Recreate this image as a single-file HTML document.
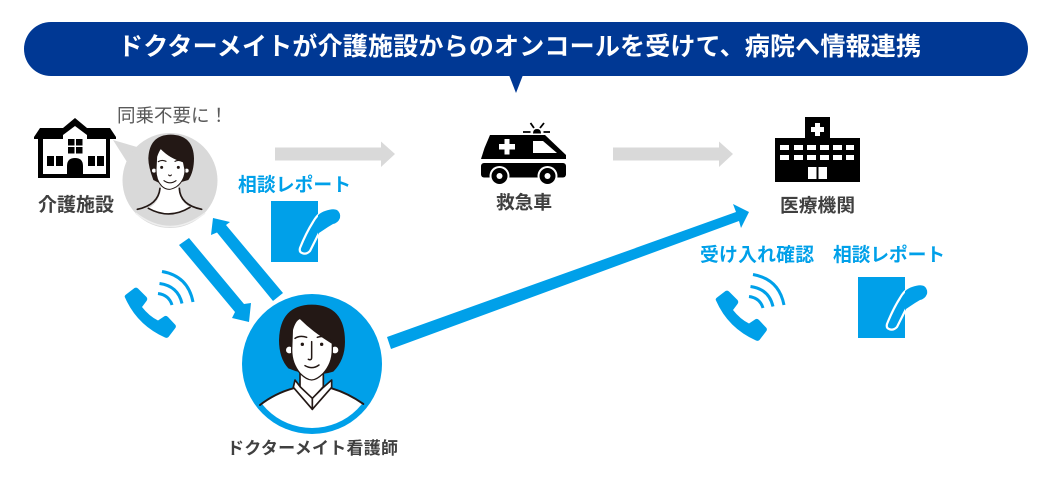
<!DOCTYPE html>
<html lang="ja"><head><meta charset="utf-8"><title>ドクターメイト</title>
<style>
html,body{margin:0;padding:0;background:#fff}
svg{display:block}
text{font-family:"Liberation Sans","Noto Sans CJK JP",sans-serif}
.b{font-weight:700;fill:#404040}
.c{font-weight:700;fill:#00a0e9}
</style></head><body>
<svg width="1045" height="483" viewBox="0 0 1045 483" xmlns="http://www.w3.org/2000/svg">
<defs>
<clipPath id="cb"><circle cx="312" cy="364" r="64"/></clipPath>
<clipPath id="cd"><rect x="271" y="201" width="47" height="61"/></clipPath>
<g id="phone">
<path d="M716 300.5Q715 299 717 297.5L725.5 291Q727.5 290 729 291.5L737.5 300Q739 302 737.5 304L733 310Q740 319 749 323.5L755 319.5Q757 318 759 320L766.5 328Q767.5 330 766 331.5L759.5 340Q758 341.5 756 340.5Q728 328 716 300.5Z" fill="#00a0e9"/>
<g fill="none" stroke="#00a0e9" stroke-width="3">
<path d="M753 274.5Q779 279 784 305"/>
<path d="M750.5 286.5Q769 289 773 306.5"/>
<path d="M749 296.5Q760 298 763 308"/>
</g>
</g>
<g id="doc">
<rect x="271" y="201" width="47" height="61" fill="#00a0e9"/>
<path d="M300 248Q306 233 313 222Q318 213 325 211Q333 208 337 210Q341 213 340 218Q338 223 333 224L328 227L319 233Q314 243 310 251Q306 255 302 253Q299 252 300 248Z" fill="#00a0e9"/>
<path d="M300 248Q306 233 313 222Q318 213 325 211Q333 208 337 210Q341 213 340 218Q338 223 333 224L328 227L319 233Q314 243 310 251Q306 255 302 253Q299 252 300 248Z" fill="none" stroke="#fff" stroke-width="2.2" clip-path="url(#cd)"/>
</g>
</defs>
<rect x="24" y="22" width="1004" height="54" rx="27" fill="#003894"/>
<path d="M509 75L523 75L516 93Z" fill="#003894"/>
<text x="118" y="55" font-size="25" font-weight="700" fill="#fff" textLength="803" lengthAdjust="spacing">ドクターメイトが介護施設からのオンコールを受けて、病院へ情報連携</text>

<!-- facility -->
<path d="M34 137L40 128H63L75 118L87 128H110L116 137V139H110V178H38V139H34Z" fill="#000"/>
<path d="M43 139H63V135L75 126L87 135V139H106V174H43Z" fill="#fff"/>
<g fill="#000">
<rect x="68" y="139" width="6.5" height="6.5"/><rect x="76" y="139" width="6.5" height="6.5"/>
<rect x="68" y="147" width="6.5" height="6.5"/><rect x="76" y="147" width="6.5" height="6.5"/>
<rect x="47" y="156" width="7" height="10"/><rect x="56" y="156" width="7" height="10"/>
<rect x="88" y="156" width="7" height="10"/><rect x="97" y="156" width="7" height="10"/>
<path d="M67 175V166Q67 158 75 158Q83 158 83 166V175Z"/>
</g>
<text x="38" y="211" font-size="19" class="b" textLength="76">介護施設</text>
<text x="117" y="122" font-size="18.5" fill="#595959">同乗不要に！</text>

<!-- small person -->
<path d="M113 140L137 147L127 162Z" fill="#d9d9d9"/>
<circle cx="170" cy="180.5" r="47.5" fill="#d9d9d9"/>
<path d="M135.5 213Q170 240 205 213" fill="none" stroke="#eee" stroke-width="1.5"/>
<g transform="translate(130 130) scale(.3333)" stroke-linecap="round">
<path d="M92 170Q92 215 55 235Q118 268 180 232Q148 215 145 170Z" fill="#fff"/>
<path d="M22 238Q85 225 90 175M215 238Q150 225 148 175M55 235Q118 270 180 232" fill="none" stroke="#231815" stroke-width="5"/>
<path d="M70 150Q55 110 55 85Q58 15 122 14Q190 15 192 85Q192 125 175 150L140 160L90 160Z" fill="#231815"/>
<circle cx="72" cy="122" r="8" fill="#fff" stroke="#231815" stroke-width="4"/>
<circle cx="170" cy="122" r="8" fill="#fff" stroke="#231815" stroke-width="4"/>
<path d="M78 120L80 80Q85 65 92 55Q120 85 160 95L165 120Q165 150 140 170Q125 178 118 178Q105 178 95 168Q78 150 78 120Z" fill="#fff" stroke="#231815" stroke-width="3"/>
<circle cx="95" cy="112" r="4.5" fill="#231815"/><circle cx="145" cy="112" r="4.5" fill="#231815"/>
<path d="M85 95Q95 88 108 94M135 94Q145 88 158 95M116 135Q120 140 124 135M102 152Q120 165 138 152" fill="none" stroke="#231815" stroke-width="3.5"/>
</g>

<!-- gray arrows -->
<path d="M275 147.5H381V141.5L395 154L381 167V160.5H275Z" fill="#d9d9d9"/>
<path d="M613 147.5H719V141.5L733 154L719 167V160.5H613Z" fill="#d9d9d9"/>

<!-- ambulance -->
<path d="M490 135H545L566 155V159H481L484.5 148Z" fill="#000"/>
<path d="M533 141H543L557 153H533Z" fill="#fff"/>
<path d="M504.500 139H509.500V144H515V149.500H509.500V154.500H504.500V149.500H499V144H504.500Z" fill="#fff"/>
<rect x="481" y="163" width="85" height="14.5" rx="3" fill="#000"/>
<circle cx="499.500" cy="176" r="10" fill="#fff"/><circle cx="499.500" cy="176" r="8" fill="#000"/><circle cx="499.500" cy="176" r="3" fill="#fff"/>
<circle cx="547.500" cy="176" r="10" fill="#fff"/><circle cx="547.500" cy="176" r="8" fill="#000"/><circle cx="547.500" cy="176" r="3" fill="#fff"/>
<path d="M533 133.5Q533 129 537 129Q541 129 541 133.500Z" fill="#000"/>
<path d="M523 132H530.500M543.500 132H550M530.500 123L534 128M544 123L540 128" stroke="#000" stroke-width="1.8"/>
<text x="496" y="209" font-size="18.7" class="b" textLength="56">救急車</text>

<!-- hospital -->
<path d="M805 117H830V138H860V182H775V138H805Z" fill="#000"/>
<path d="M815 123H820V127H824V132H820V136H815V132H811V127H815Z" fill="#fff"/>
<g fill="#fff">
<rect x="780" y="145" width="9" height="5"/><rect x="794" y="145" width="9" height="5"/><rect x="807" y="145" width="9" height="5"/><rect x="820" y="145" width="9" height="5"/><rect x="833" y="145" width="9" height="5"/><rect x="846" y="145" width="8" height="5"/>
<rect x="780" y="155" width="9" height="5"/><rect x="794" y="155" width="9" height="5"/><rect x="807" y="155" width="9" height="5"/><rect x="820" y="155" width="9" height="5"/><rect x="833" y="155" width="9" height="5"/><rect x="846" y="155" width="8" height="5"/>
<rect x="808" y="167" width="8.5" height="12"/><rect x="818.5" y="167" width="8.5" height="12"/>
</g>
<text x="780" y="212" font-size="18.7" class="b" textLength="75">医療機関</text>

<!-- blue labels -->
<text x="238" y="191" font-size="18.8" class="c" textLength="113">相談レポート</text>
<text x="833" y="261" font-size="18.8" class="c" textLength="112">相談レポート</text>
<text x="700" y="261" font-size="18.8" class="c" textLength="114">受け入れ確認</text>

<use href="#doc"/>
<use href="#doc" x="587" y="76"/>
<use href="#phone"/>
<use href="#phone" x="-591" y="-3"/>

<!-- blue arrows -->
<path d="M283 293L273 301L217 232.5L211 235L213 218L230 222L226 225Z" fill="#00a0e9"/>
<path d="M179 245L189 238L244 304L251 303L249 322L232 318L235 312Z" fill="#00a0e9"/>
<path d="M387 337L736 212L733 204L749 212L741 228L739 221L391 349Z" fill="#00a0e9"/>

<!-- nurse -->
<circle cx="312" cy="364" r="70" fill="#00a0e9"/>
<path d="M240 434V405H261Q275 395 294 388L332 388Q350 395 363 404H384V434Z" fill="#fff" clip-path="url(#cb)"/>
<g transform="translate(255 300) scale(.3333)" stroke-linecap="round" stroke-linejoin="round">
<path d="M15 315Q60 280 115 265M325 312Q280 280 230 265" fill="none" stroke="#231815" stroke-width="6"/>
<path d="M100 205Q72 175 72 120Q75 15 170 14Q270 15 270 125Q270 180 235 215Q170 235 100 205Z" fill="#231815"/>
<circle cx="103" cy="150" r="12" fill="#fff" stroke="#231815" stroke-width="4"/>
<circle cx="240" cy="150" r="12" fill="#fff" stroke="#231815" stroke-width="4"/>
<path d="M135 210V260L172 297L205 260V210Z" fill="#fff" stroke="#231815" stroke-width="5"/>
<path d="M110 150L112 90Q120 60 135 55Q175 95 232 130V150Q232 190 205 220Q185 240 170 240Q155 240 135 220Q110 190 110 150Z" fill="#fff" stroke="#231815" stroke-width="4"/>
<path d="M120 240L115 262L172 328L230 262L230 240L205 262L172 295L137 262Z" fill="#fff" stroke="#231815" stroke-width="5"/>
<path d="M172 295V328" stroke="#231815" stroke-width="5"/>
<circle cx="142" cy="133" r="5" fill="#231815"/><circle cx="200" cy="133" r="5" fill="#231815"/>
<path d="M120 115Q135 105 155 112M187 112Q205 105 225 118M170 125V172Q170 182 160 178M150 197Q172 210 192 195" fill="none" stroke="#231815" stroke-width="4.5"/>
</g>
<text x="227" y="454" font-size="17" class="b" textLength="171">ドクターメイト看護師</text>
</svg>
</body></html>
